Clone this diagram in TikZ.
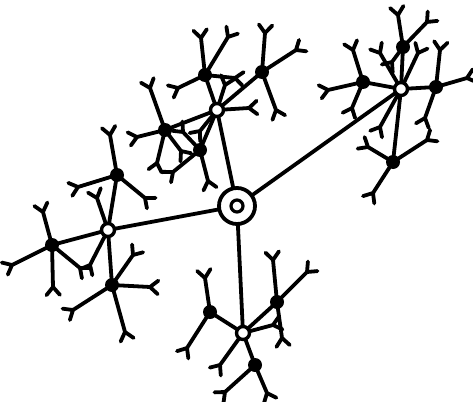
\documentclass[tikz,border=0pt]{standalone}
\usetikzlibrary{calc}
\tikzset{
  bond/.style={line width=3.8pt, line cap=round, line join=round},
  hub/.style={circle, draw, fill=white, line width=3.4pt, minimum size=13pt, inner sep=0pt},
  blob/.style={circle, fill=black, minimum size=14pt, inner sep=0pt},
}
\newcommand\ytip[2]{\draw[bond] (#1) -- (#2) -- ($(#2)!-10.5pt!40:(#1)$) (#2) -- ($(#2)!-10.5pt!-40:(#1)$);}
\begin{document}
\begin{tikzpicture}[x=1pt,y=-1pt]
\useasboundingbox (0,0) rectangle (473,401);
% centres
\coordinate (C) at (237,206);
\coordinate (T) at (217,110);
\coordinate (R) at (401,89);
\coordinate (L) at (108,230);
\coordinate (B) at (243,333);
\coordinate (Ta) at (205,75);
\coordinate (Tb) at (262,72);
\coordinate (Tc) at (165,130);
\coordinate (Td) at (200,150);
\coordinate (Ra) at (403,47);
\coordinate (Rb) at (363,82);
\coordinate (Rc) at (436,87);
\coordinate (Rd) at (393,162);
\coordinate (La) at (117,175);
\coordinate (Lb) at (52,245);
\coordinate (Lc) at (112,285);
\coordinate (Ba) at (210,312);
\coordinate (Bb) at (277,302);
\coordinate (Bc) at (255,365);
% main bonds
\draw[bond] (C) -- (T) (C) -- (R) (C) -- (L) (C) -- (B);
\draw[bond] (T) -- (Ta) (T) -- (Tb) (T) -- (Tc) (T) -- (Td);
\draw[bond] (R) -- (Ra) (R) -- (Rb) (R) -- (Rc) (R) -- (Rd);
\draw[bond] (L) -- (La) (L) -- (Lb) (L) -- (Lc);
\draw[bond] (B) -- (Ba) (B) -- (Bb) (B) -- (Bc);
% top group
\ytip{Ta}{201,38} \ytip{Ta}{228,37} \ytip{Ta}{235,78} \ytip{Ta}{178,88}
\ytip{Tb}{265,33} \ytip{Tb}{296,50} \ytip{Tb}{276,110}
\ytip{Tc}{150,88} \ytip{Tc}{137,137} \ytip{Tc}{157,163} \ytip{Tc}{181,151}
\ytip{Td}{183,132} \ytip{Td}{173,172} \ytip{Td}{208,181}
\ytip{T}{225,85} \ytip{T}{249,108} \ytip{T}{200,131}
% right group
\ytip{Ra}{398,15} \ytip{Ra}{427,22} \ytip{Ra}{392,62}
\ytip{Rb}{353,50} \ytip{Rb}{328,90} \ytip{Rb}{352,108}
\ytip{Rc}{440,50} \ytip{Rc}{467,78} \ytip{Rc}{425,118}
\ytip{Rd}{368,147} \ytip{Rd}{427,140} \ytip{Rd}{373,193}
\ytip{R}{380,53} \ytip{R}{418,53} \ytip{R}{380,127}
% left group
\ytip{La}{110,135} \ytip{La}{78,187} \ytip{La}{145,198}
\ytip{Lb}{43,212} \ytip{Lb}{12,265} \ytip{Lb}{53,287} \ytip{Lb}{80,268}
\ytip{Lc}{133,255} \ytip{Lc}{150,287} \ytip{Lc}{73,310} \ytip{Lc}{125,332}
\ytip{L}{97,198} \ytip{L}{90,265}
% bottom group
\ytip{Ba}{205,278} \ytip{Ba}{187,348}
\ytip{Bb}{273,260} \ytip{Bb}{307,272} \ytip{Bb}{282,338}
\ytip{Bc}{225,392} \ytip{Bc}{267,393}
\ytip{B}{273,325} \ytip{B}{220,365}
% nodes on top
\node[circle, draw, fill=white, line width=3.8pt, minimum size=36pt, inner sep=0pt] (core) at (C) {};
\node[circle, draw, line width=3.2pt, minimum size=12pt, inner sep=0pt] (coreIn) at (C) {};
\foreach \h in {T,R,L,B} \node[hub] (hub\h) at (\h) {};
\foreach \d in {Ta,Tb,Tc,Td,Ra,Rb,Rc,Rd,La,Lb,Lc,Ba,Bb,Bc} \node[blob] (dot\d) at (\d) {};
\end{tikzpicture}
\end{document}
